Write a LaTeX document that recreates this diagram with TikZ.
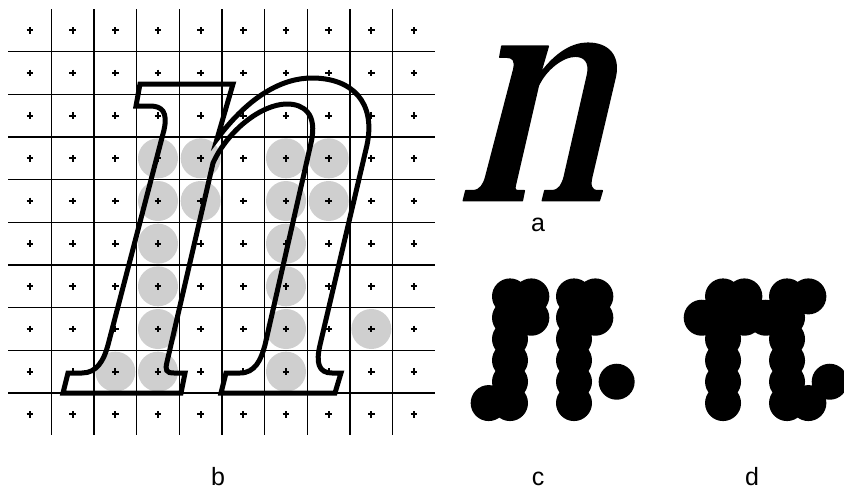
\documentclass[tikz,border=0pt]{standalone}
\usepackage{fontspec}
\setmainfont{Liberation Sans}
\begin{document}
\begin{tikzpicture}[x=1pt,y=-1pt]
\tikzset{
  gridline/.style={line width=1.6pt, black},
  plusmark/.style={line width=1.7pt, black},
  graydot/.style={fill=black!19},
  blackdot/.style={fill=black},
  outlinen/.style={line width=5pt, line join=miter, black},
  lbl/.style={font=\fontsize{25}{28}\selectfont, anchor=base, inner sep=0pt},
}
\def\npath{(140,84) -- (233,84) -- (217,139)
  .. controls (250,95) and (283,78) .. (312,78)
  .. controls (352,78) and (376,102) .. (367,145)
  -- (320,345)
  .. controls (316,362) and (318,373) .. (332,373)
  -- (341,373) -- (335,393) -- (221,393) -- (226,373) -- (240,373)
  .. controls (255,373) and (261,360) .. (265,345)
  -- (311,143)
  .. controls (318,113) and (303,104) .. (287,104)
  .. controls (262,104) and (228,130) .. (213,163)
  -- (167,362)
  .. controls (165,370) and (166,373) .. (174,373)
  -- (185,373) -- (181,393) -- (63,393) -- (68,373) -- (82,373)
  .. controls (97,373) and (104,360) .. (108,345)
  -- (164,130)
  .. controls (168,112) and (162,106) .. (150,106)
  -- (136,106) -- cycle}
\useasboundingbox (0,0) rectangle (844,491);
% gray circles (b)
\foreach \c/\r in {3/3,4/3,6/3,7/3,3/4,4/4,6/4,7/4,3/5,6/5,3/6,6/6,3/7,6/7,8/7,2/8,3/8,6/8}
  \fill[graydot] ({30+42.667*\c},{30.33+42.667*\r}) circle (20pt);
% grid
\foreach \k in {1,...,9} {
  \draw[gridline] ({8.667+42.667*\k},9.3) -- ({8.667+42.667*\k},435);
  \draw[gridline] (8.3,{9+42.667*\k}) -- (435,{9+42.667*\k});
}
% plus marks
\foreach \i in {0,...,9} \foreach \j in {0,...,9} {
  \draw[plusmark] ({30+42.667*\i-3.3},{30.33+42.667*\j}) -- ++(6.6,0)
                  ({30+42.667*\i},{30.33+42.667*\j-3.3}) -- ++(0,6.6);
}
% outline n
\draw[outlinen] \npath;
% filled n (a)
\begin{scope}[shift={(431.8,4.2)}, scale=0.5]
  \filldraw[black, line width=1.5pt, line join=round] \npath;
\end{scope}
% dots c
\foreach \c/\r in {3/3,4/3,6/3,7/3,3/4,4/4,6/4,7/4,3/5,6/5,3/6,6/6,3/7,6/7,8/7,2/8,3/8,6/8}
  \fill[blackdot] ({446+21.333*\c},{232.4+21.333*\r}) circle (18pt);
% dots d
\foreach \c/\r in {1/3,2/3,4/3,5/3,0/4,1/4,2/4,3/4,4/4,1/5,4/5,1/6,4/6,1/7,4/7,6/7,1/8,4/8,5/8}
  \fill[blackdot] ({701.7+21.333*\c},{232.4+21.333*\r}) circle (18pt);
% labels
\node[lbl] (la) at (538,231) {a};
\node[lbl] (lb) at (218,485) {b};
\node[lbl] (lc) at (538,485) {c};
\node[lbl] (ld) at (752,485) {d};
\end{tikzpicture}
\end{document}
